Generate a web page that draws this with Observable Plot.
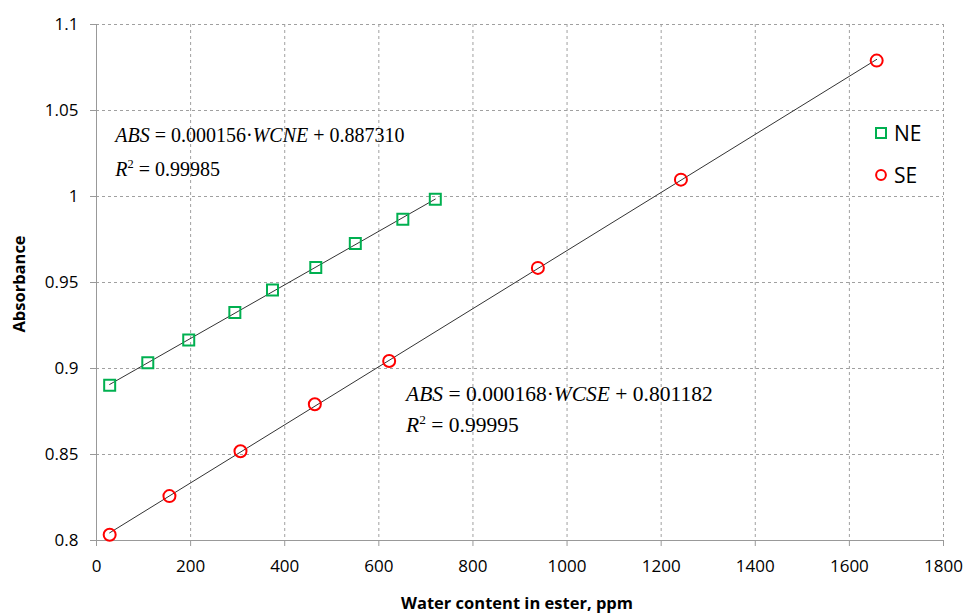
<!DOCTYPE html>
<html><head><meta charset="utf-8">
<script src="https://cdn.jsdelivr.net/npm/d3@7"></script>
<script src="https://cdn.jsdelivr.net/npm/@observablehq/plot@0.6"></script>
<style>body{margin:0;background:#fff}</style>
</head><body><div id="chart"></div>
<script>
// NE series (green squares)
const neWater = [28, 109, 196, 294, 374, 466, 550, 651, 720];
const neAbs = [0.8903, 0.9033, 0.9165, 0.9326, 0.9456, 0.9587, 0.9727, 0.9868, 0.9984];
// SE series (red circles)
const seWater = [28, 155, 306, 464, 622, 938, 1242, 1658];
const seAbs = [0.8033, 0.8258, 0.8519, 0.8792, 0.9044, 0.9585, 1.0098, 1.0790];
// ticks
const xTicks = [0, 200, 400, 600, 800, 1000, 1200, 1400, 1600, 1800];
const yTicks = [0.8, 0.85, 0.9, 0.95, 1, 1.05, 1.1];
// series names / colors
const seriesNames = ["NE", "SE"];
const seriesColors = ["#00b050", "#ff0000"];

const ne = neWater.map((x, i) => ({x, y: neAbs[i]}));
const se = seWater.map((x, i) => ({x, y: seAbs[i]}));
const SANS = "'Open Sans', sans-serif";
const SERIF = "'Liberation Serif', 'Times New Roman', serif";

const plot = Plot.plot({
  width: 965, height: 613,
  marginLeft: 96, marginRight: 22, marginTop: 24, marginBottom: 73,
  style: {fontFamily: SANS, fontSize: "16px", color: "#000", background: "#fff"},
  x: {domain: [0, 1800], axis: null},
  y: {domain: [0.8, 1.1], axis: null},
  marks: [
    Plot.gridX(xTicks.slice(1), {stroke: "#a0a0a0", strokeOpacity: 1, strokeDasharray: "3,3"}),
    Plot.gridY(yTicks.slice(1), {stroke: "#a0a0a0", strokeOpacity: 1, strokeDasharray: "3,3"}),
    Plot.axisX({ticks: xTicks, tickSize: 6, tickPadding: 13, stroke: "#999", label: null,
      fontSize: 17, fontFamily: SANS, fill: "#000", tickFormat: d => String(d)}),
    Plot.axisY({ticks: yTicks, tickSize: 6, tickPadding: 12, stroke: "#999", label: null,
      fontSize: 17, fontFamily: SANS, fill: "#000", tickFormat: d => String(+d.toFixed(2))}),
    Plot.ruleX([0], {stroke: "#999"}),
    Plot.ruleY([0.8], {stroke: "#999"}),
    Plot.linearRegressionY(ne, {x: "x", y: "y", ci: 0, stroke: "#333", strokeWidth: 1}),
    Plot.linearRegressionY(se, {x: "x", y: "y", ci: 0, stroke: "#333", strokeWidth: 1}),
    Plot.dot(ne, {x: "x", y: "y", symbol: "square", r: 6.2, stroke: seriesColors[0], strokeWidth: 2, fill: "none"}),
    Plot.dot(se, {x: "x", y: "y", symbol: "circle", r: 6, stroke: seriesColors[1], strokeWidth: 2, fill: "none"})
  ]
});
document.getElementById("chart").appendChild(plot);

const svg = d3.select(plot);
const sx = plot.scale("x"), sy = plot.scale("y");

// Equation annotations (anchored in data coordinates)
const equations = [
  {x: 41, y: 1.0316, size: 20, gap: 34, line1: [["ABS", 1], [" = 0.000156", 0], ["\u00b7", 0], ["WCNE", 1], [" + 0.887310", 0]], r2: "0.99985"},
  {x: 659, y: 0.8810, size: 21.5, gap: 31, line1: [["ABS", 1], [" = 0.000168", 0], ["\u00b7", 0], ["WCSE", 1], [" + 0.801182", 0]], r2: "0.99995"}
];
for (const eq of equations) {
  const px = sx.apply(eq.x), py = sy.apply(eq.y);
  const t = svg.append("text").attr("x", px).attr("y", py).attr("text-anchor", "start")
    .attr("font-family", SERIF).attr("font-size", eq.size).attr("fill", "#000");
  for (const [s, it] of eq.line1) t.append("tspan").attr("font-style", it ? "italic" : "normal").text(s);
  const t2 = svg.append("text").attr("x", px).attr("y", py + eq.gap).attr("text-anchor", "start")
    .attr("font-family", SERIF).attr("font-size", eq.size).attr("fill", "#000");
  t2.append("tspan").attr("font-style", "italic").text("R");
  t2.append("tspan").attr("font-size", eq.size * 0.62).attr("dy", -8).text("2");
  t2.append("tspan").attr("dy", 8).text(" = " + eq.r2);
}

// Legend
const legend = svg.append("g").attr("font-family", SANS).attr("font-size", 21).attr("text-anchor", "start");
const legendSymbols = [d3.symbolSquare, d3.symbolCircle];
const legendSizes = [100, 75];
seriesNames.forEach((name, i) => {
  const ly = 133 + i * 42;
  legend.append("path").attr("d", d3.symbol(legendSymbols[i], legendSizes[i])())
    .attr("transform", `translate(881,${ly})`).attr("fill", "none")
    .attr("stroke", seriesColors[i]).attr("stroke-width", 2);
  legend.append("text").attr("x", 894).attr("y", ly).attr("dy", "0.36em").text(name);
});

// Axis titles
svg.append("text").attr("x", 517).attr("y", 603).attr("dy", "0.35em").attr("text-anchor", "middle")
  .attr("font-family", SANS).attr("font-weight", "bold").attr("font-size", 16.5).text("Water content in ester, ppm");
svg.append("text").attr("transform", "translate(19,284) rotate(-90)").attr("dy", "0.35em")
  .attr("text-anchor", "middle").attr("font-family", SANS).attr("font-weight", "bold").attr("font-size", 16.5).text("Absorbance");
</script>
</body></html>
